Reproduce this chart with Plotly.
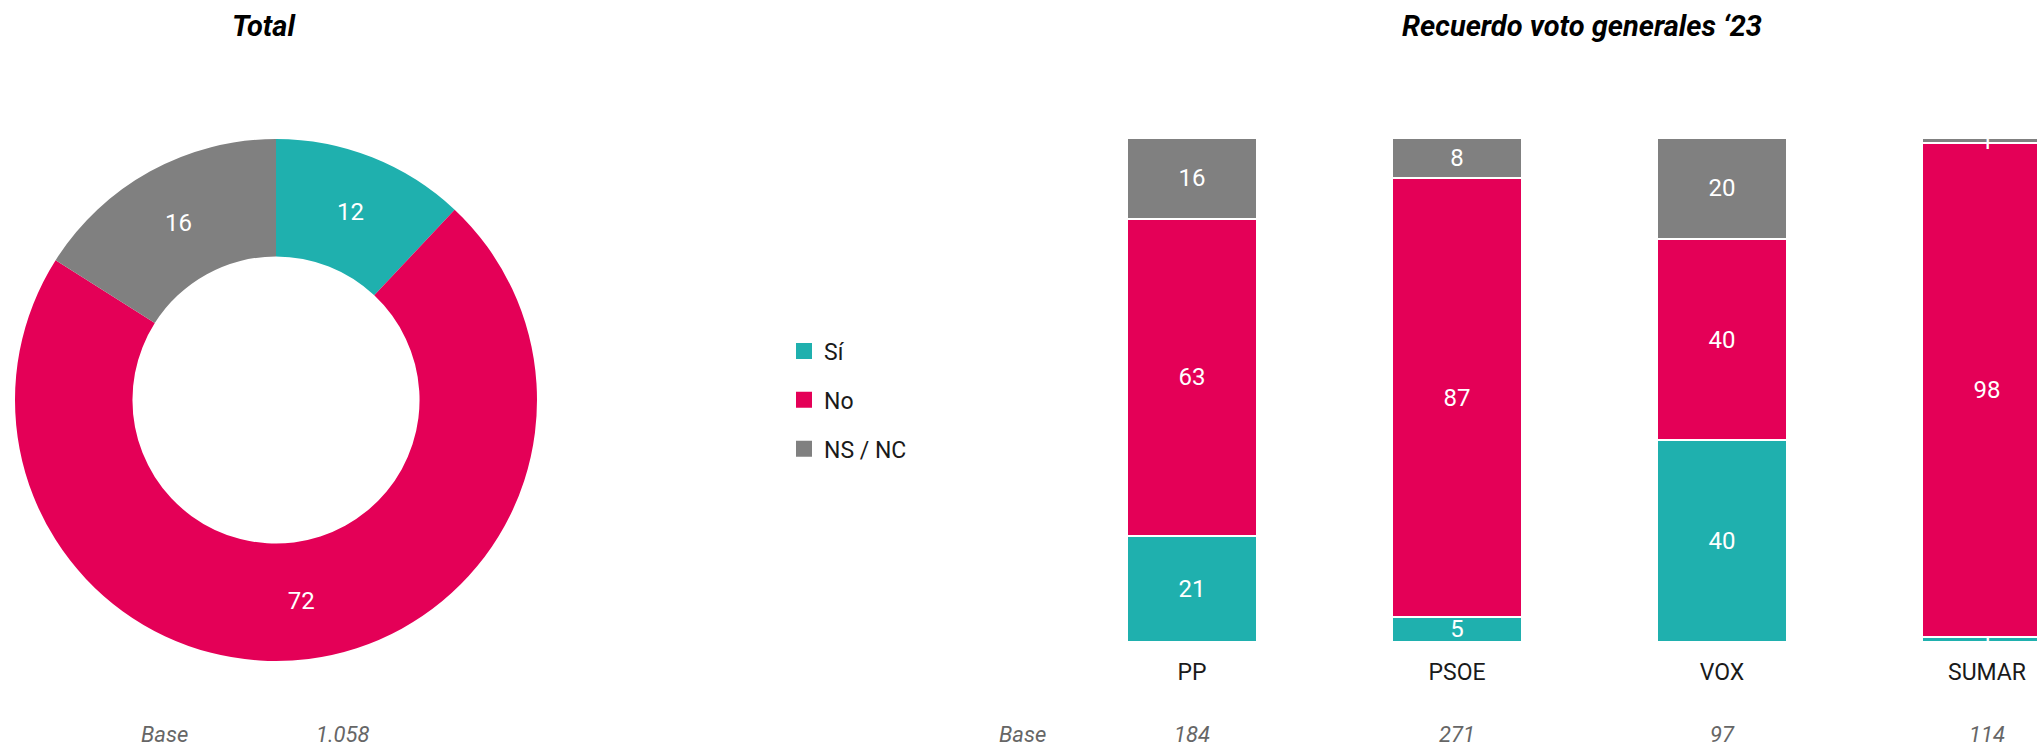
import plotly.graph_objects as go

W, H = 2037, 746

# ---- data ----
answers = ["Sí", "No", "NS / NC"]
colors = ["#1FB0AE", "#E40057", "#808080"]
total_values = [12, 72, 16]
total_base = "1.058"

parties = ["PP", "PSOE", "VOX", "SUMAR"]
si_values = [21, 5, 40, 1]
no_values = [63, 87, 40, 98]
nsnc_values = [16, 8, 20, 1]
party_bases = ["184", "271", "97", "114"]

FONT = "Roboto"

def px_x(p):
    return p / W

def px_y(p_from_top):
    return 1 - p_from_top / H

fig = go.Figure()

# donut
fig.add_trace(go.Pie(
    labels=answers, values=total_values,
    marker=dict(colors=colors, line=dict(width=0)),
    hole=0.55, sort=False, direction="clockwise", rotation=0,
    texttemplate="%{value}", textposition="inside",
    insidetextorientation="horizontal",
    textfont=dict(color="white", size=24, family=FONT),
    showlegend=False,
    domain=dict(x=[px_x(15), px_x(537)], y=[px_y(661), px_y(139)]),
))

# stacked bars
for name, vals, col in zip(answers, [si_values, no_values, nsnc_values], colors):
    fig.add_trace(go.Bar(
        x=parties, y=vals, name=name, showlegend=False,
        marker=dict(color=col, line=dict(color="white", width=2)),
        width=0.494,
        text=vals, texttemplate="%{text}", textposition="inside",
        insidetextanchor="middle", constraintext="none", textangle=0,
        textfont=dict(color="white", size=24, family=FONT),
        cliponaxis=False,
        xaxis="x", yaxis="y",
    ))

# legend entries (square swatches)
for name, col in zip(answers, colors):
    fig.add_trace(go.Scatter(
        x=[None], y=[None], mode="markers", name=name, legendgroup=name,
        marker=dict(symbol="square", size=16, color=col),
        xaxis="x", yaxis="y",
    ))

# axis geometry: category spacing 265 px, first category center at 1192 px
x_left = 1192 - 132.5
x_max = (W - 1192) / 265.0

fig.update_layout(
    width=W, height=H,
    margin=dict(l=0, r=0, t=0, b=0),
    paper_bgcolor="white", plot_bgcolor="white",
    barmode="stack",
    font=dict(family=FONT, color="#1a1a1a"),
    xaxis=dict(domain=[px_x(x_left), 1.0], range=[-0.5, x_max],
               showgrid=False, zeroline=False, showline=False,
               ticks="", tickfont=dict(size=23, color="#1a1a1a", family=FONT),
               ticklabelstandoff=14),
    yaxis=dict(domain=[px_y(642), px_y(138)], range=[0, 100],
               showgrid=False, zeroline=False, showline=False,
               showticklabels=False),
    legend=dict(x=px_x(784), y=px_y(400), xanchor="left", yanchor="middle",
                traceorder="grouped", tracegroupgap=16, itemsizing="trace",
                font=dict(size=23, color="#1a1a1a", family=FONT),
                bgcolor="rgba(0,0,0,0)"),
)

annotations = []
title_font = dict(size=29, color="black", family=FONT)
annotations.append(dict(text="<b><i>Total</i></b>", x=px_x(264), y=px_y(26),
                        xref="paper", yref="paper", showarrow=False,
                        xanchor="center", yanchor="middle", font=title_font))
annotations.append(dict(text="<b><i>Recuerdo voto generales ‘23</i></b>", x=px_x(1582), y=px_y(26),
                        xref="paper", yref="paper", showarrow=False,
                        xanchor="center", yanchor="middle", font=title_font))
base_font = dict(size=22, color="#666666", family=FONT)
for txt, xp in [("Base", 164), (total_base, 343), ("Base", 1022)]:
    annotations.append(dict(text="<i>%s</i>" % txt, x=px_x(xp), y=px_y(734),
                            xref="paper", yref="paper", showarrow=False,
                            xanchor="center", yanchor="middle", font=base_font))
for p, b in zip(parties, party_bases):
    annotations.append(dict(text="<i>%s</i>" % b, x=p, y=px_y(734), xref="x", yref="paper",
                            showarrow=False, xanchor="center", yanchor="middle", font=base_font))
fig.update_layout(annotations=annotations)

fig.write_html(
    "out.html",
    config={"displayModeBar": False},
    post_script="document.documentElement.style.overflow='hidden';"
                "document.body.style.margin='0';document.body.style.overflow='hidden';",
)
